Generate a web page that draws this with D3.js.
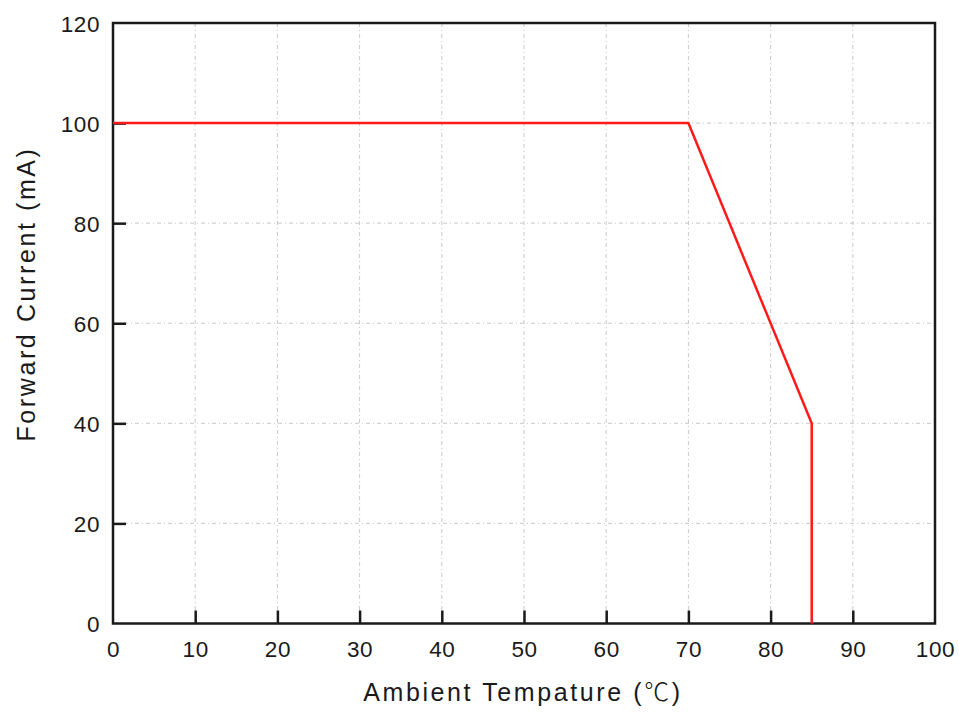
<!DOCTYPE html>
<html><head><meta charset="utf-8">
<script src="https://cdn.jsdelivr.net/npm/d3@7"></script>
<style>body{margin:0;background:#fff}</style>
</head><body>
<svg id="c" width="959" height="713"></svg>
<script>
const temps = [0, 70, 85, 85];
const currents = [100, 100, 40, 0];
const xTicks = [0,10,20,30,40,50,60,70,80,90,100];
const yTicks = [0,20,40,60,80,100,120];

const svg = d3.select("#c");
const m = {l:113, t:23, r:935, b:623.5};
const x = d3.scaleLinear().domain([0,100]).range([m.l, m.r]);
const y = d3.scaleLinear().domain([0,120]).range([m.b, m.t]);
const font = "Liberation Sans, Arial, sans-serif";

// grid
const g = svg.append("g");
g.selectAll("line.vx").data(xTicks.slice(1,-1)).join("line")
  .attr("x1", d=>x(d)).attr("x2", d=>x(d)).attr("y1", m.t).attr("y2", m.b)
  .attr("stroke","#c8c8c8").attr("stroke-width",1).attr("stroke-dasharray","4,3,1,3");
g.selectAll("line.hy").data(yTicks.slice(1,-1)).join("line")
  .attr("y1", d=>y(d)).attr("y2", d=>y(d)).attr("x1", m.l).attr("x2", m.r)
  .attr("stroke","#c8c8c8").attr("stroke-width",1).attr("stroke-dasharray","4,3,1,3");

// axes
const xAxis = d3.axisBottom(x).tickValues(xTicks).tickSizeInner(-13).tickSizeOuter(0);
const yAxis = d3.axisLeft(y).tickValues(yTicks).tickSizeInner(-13).tickSizeOuter(0).tickPadding(13);
const xa = svg.append("g").attr("transform",`translate(0,${m.b})`).call(xAxis);
const ya = svg.append("g").attr("transform",`translate(${m.l},0)`).call(yAxis);
[xa,ya].forEach(a=>{
  a.select(".domain").remove();
  a.selectAll(".tick line").attr("stroke","#1a1a1a").attr("stroke-width",2.5);
  a.selectAll(".tick text").attr("font-family",font).attr("font-size",22.5)
    .attr("letter-spacing","0.6px").attr("fill","#1a1a1a");
});
xa.selectAll(".tick text").attr("y",33.5).attr("dy",0);
xa.selectAll(".tick").filter(d=>d===0||d===100).select("line").remove();
ya.selectAll(".tick").filter(d=>d===0||d===120).select("line").remove();
ya.selectAll(".tick text").attr("dy","0.36em");

// frame
svg.append("rect").attr("x",m.l).attr("y",m.t).attr("width",m.r-m.l).attr("height",m.b-m.t)
  .attr("fill","none").attr("stroke","#1a1a1a").attr("stroke-width",2.5);

// data line
const pts = temps.map((t,i)=>[t,currents[i]]);
svg.append("path").datum(pts)
  .attr("d", d3.line().x(d=>x(d[0])).y(d=>y(d[1])))
  .attr("fill","none").attr("stroke","#ff1a1a").attr("stroke-width",2.5);

// labels
const xl = svg.append("text").attr("x",523).attr("y",701).attr("text-anchor","middle")
  .attr("font-family",font).attr("font-size",25).attr("letter-spacing","2.6px").attr("fill","#1a1a1a");
xl.append("tspan").text("Ambient Tempature (");
xl.append("tspan").attr("font-family","Noto Sans CJK SC").attr("font-weight",300).text("℃");
xl.append("tspan").text(")");
svg.append("text").attr("transform","translate(35,294) rotate(-90)").attr("text-anchor","middle")
  .attr("font-family",font).attr("font-size",25).attr("letter-spacing","2.6px").attr("fill","#1a1a1a")
  .text("Forward Current (mA)");
</script>
</body></html>
